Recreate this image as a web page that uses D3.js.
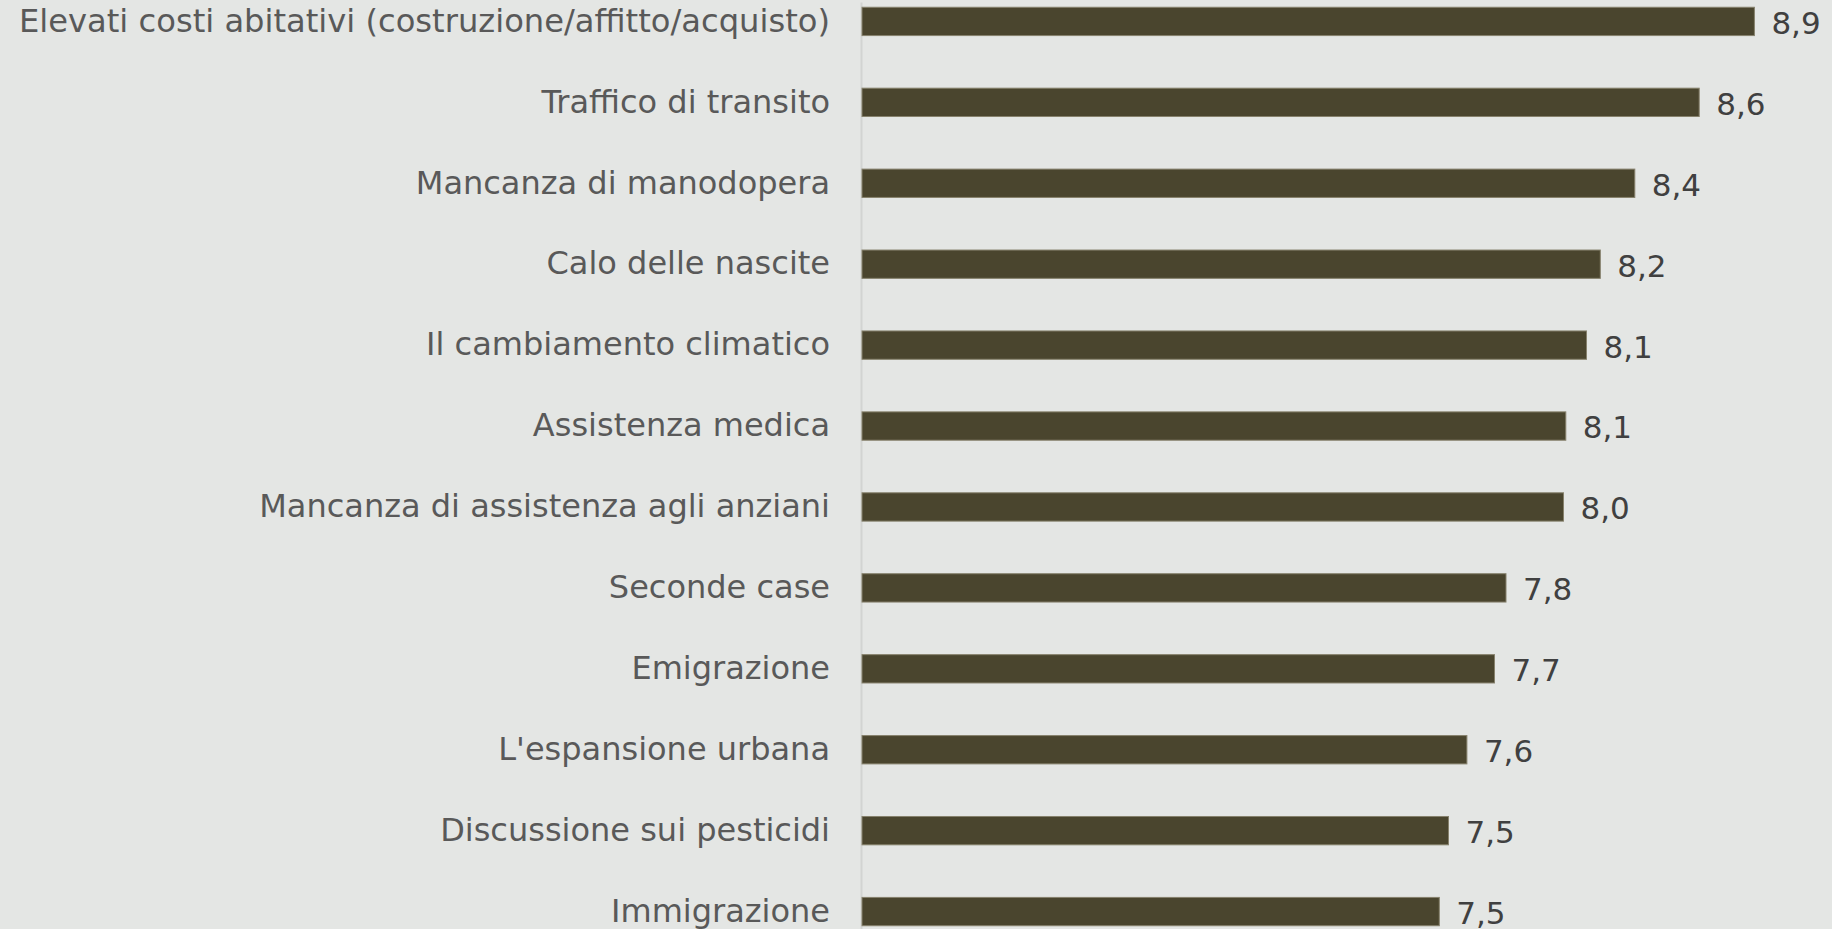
<!DOCTYPE html>
<html>
<head>
<meta charset="utf-8">
<script src="https://cdn.jsdelivr.net/npm/d3@7"></script>
<style>
  html, body { margin: 0; padding: 0; background: #e4e6e4; }
  svg { display: block; }
</style>
</head>
<body>
<div id="chart"></div>
<script>
const categories = [
  'Elevati costi abitativi (costruzione/affitto/acquisto)',
  'Traffico di transito',
  'Mancanza di manodopera',
  'Calo delle nascite',
  'Il cambiamento climatico',
  'Assistenza medica',
  'Mancanza di assistenza agli anziani',
  'Seconde case',
  'Emigrazione',
  "L'espansione urbana",
  'Discussione sui pesticidi',
  'Immigrazione'
]
// bar lengths (unrounded)
const values = [8.88, 8.64, 8.36, 8.21, 8.15, 8.06, 8.05, 7.80, 7.75, 7.63, 7.55, 7.51]
// labels as printed next to the bars
const shown = ['8,9', '8,6', '8,4', '8,2', '8,1', '8,1', '8,0', '7,8', '7,7', '7,6', '7,5', '7,5']
const xDomain = [5, 9]

const width = 1832
const height = 929

const svg = d3.select('#chart').append('svg')
  .attr('width', width)
  .attr('height', height)

svg.append('rect')
  .attr('width', width)
  .attr('height', height)
  .attr('fill', '#e4e6e4')

const x = d3.scaleLinear()
  .domain(xDomain)
  .range([862, 1782])

const y = d3.scaleBand()
  .domain(categories)
  .range([2, 931])
  .paddingInner(0.65)
  .paddingOuter(0.065)

const data = categories.map((c, i) => ({ cat: c, value: values[i], label: shown[i] }))

const yAxis = svg.append('g')
  .attr('transform', `translate(${x.range()[0] - 1},0)`)
  .call(d3.axisLeft(y).tickSize(0).tickPadding(31))

yAxis.select('.domain')
  .attr('stroke', '#d2d4d2')
  .attr('stroke-width', 2)

const maxLabel = x.range()[0] - 1 - 31 - 19
yAxis.selectAll('text')
  .attr('fill', '#595959')
  .style('font-family', '"DejaVu Sans", Verdana, sans-serif')
  .style('font-size', '32px')
  .each(function () {
    // the longest label fills the whole left margin, as in the original
    if (this.getComputedTextLength() > maxLabel * 0.95) {
      d3.select(this)
        .attr('textLength', maxLabel)
        .attr('lengthAdjust', 'spacingAndGlyphs')
    }
  })

svg.append('g')
  .selectAll('rect')
  .data(data)
  .enter()
  .append('rect')
  .attr('x', x(xDomain[0]))
  .attr('y', d => y(d.cat))
  .attr('width', d => x(d.value) - x(xDomain[0]))
  .attr('height', y.bandwidth())
  .attr('fill', '#4a452e')
  .attr('stroke', '#86816c')
  .attr('stroke-width', 1)

svg.append('g')
  .selectAll('text')
  .data(data)
  .enter()
  .append('text')
  .attr('x', d => x(d.value) + 17)
  .attr('y', d => y(d.cat) + y.bandwidth() / 2)
  .attr('dy', '0.4em')
  .attr('fill', '#404040')
  .style('font-family', '"DejaVu Sans", Verdana, sans-serif')
  .style('font-size', '31px')
  .text(d => d.label)
</script>
</body>
</html>
